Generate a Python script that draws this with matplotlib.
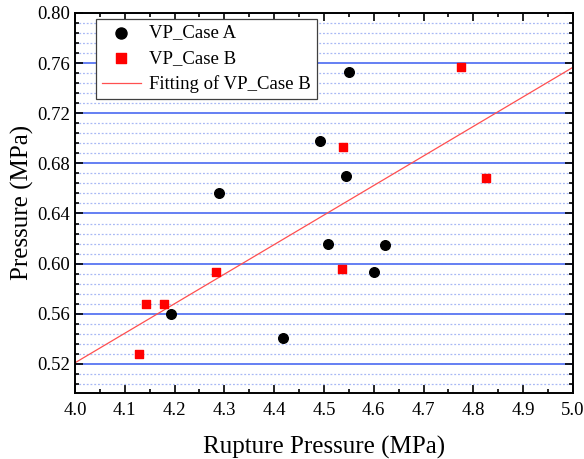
import numpy as np
import matplotlib
matplotlib.use("Agg")
import matplotlib.pyplot as plt
from matplotlib.ticker import MultipleLocator

plt.rcParams['font.family'] = ['Liberation Serif', 'DejaVu Serif']

# VP_Case A
a_x = [4.289, 4.192, 4.417, 4.493, 4.551, 4.544, 4.509, 4.622, 4.600]
a_y = [0.656, 0.560, 0.541, 0.698, 0.753, 0.670, 0.616, 0.615, 0.593]

# VP_Case B
b_x = [4.129, 4.143, 4.178, 4.284, 4.537, 4.538, 4.776, 4.826]
b_y = [0.528, 0.568, 0.568, 0.593, 0.596, 0.693, 0.757, 0.668]

# linear fit of case B
slope, inter = np.polyfit(b_x, b_y, 1)
fit_x = np.array([4.0, 5.0])
fit_y = slope * fit_x + inter

fig = plt.figure(figsize=(5.84, 4.59), dpi=100)
ax = fig.add_axes([0.1284, 0.1445, 0.8526, 0.8272])

ax.set_xlim(4.0, 5.0)
ax.set_ylim(0.497, 0.80)
ax.xaxis.set_major_locator(MultipleLocator(0.1))
ax.xaxis.set_minor_locator(MultipleLocator(0.05))
ax.yaxis.set_major_locator(MultipleLocator(0.04))
ax.yaxis.set_minor_locator(MultipleLocator(0.008))

ax.grid(True, which='major', axis='y', color='#3a5cf0', lw=1.1, ls='-')
ax.grid(True, which='minor', axis='y', color='#a8b8f5', lw=0.9, ls=(0, (1.5, 1.5)))
ax.set_axisbelow(True)

ax.plot(fit_x, fit_y, color='#ff5050', lw=0.9, label='Fitting of VP_Case B', zorder=2)
ax.scatter(a_x, a_y, s=48, c='black', marker='o', label='VP_Case A', zorder=3)
ax.scatter(b_x, b_y, s=38, c='red', marker='s', label='VP_Case B', zorder=3)

ax.tick_params(which='both', direction='in', top=True, right=True, width=1.2)
ax.tick_params(which='major', length=6, labelsize=13.5)
ax.tick_params(which='minor', length=3)
ax.set_xticks(np.arange(4.0, 5.01, 0.1))
ax.set_xticklabels([f"{v:.1f}" for v in np.arange(4.0, 5.01, 0.1)])
ax.set_yticks(np.arange(0.52, 0.801, 0.04))
ax.set_yticklabels([f"{v:.2f}" for v in np.arange(0.52, 0.801, 0.04)])
ax.tick_params(axis='x', pad=7)
for s in ax.spines.values():
    s.set_linewidth(1.4)

ax.set_xlabel('Rupture Pressure (MPa)', fontsize=18, labelpad=12)
ax.set_ylabel('Pressure (MPa)', fontsize=18, labelpad=2)

h, l = ax.get_legend_handles_labels()
order = [1, 2, 0]
leg = ax.legend([h[i] for i in order], [l[i] for i in order], loc='upper left',
                bbox_to_anchor=(0.042, 0.985), fontsize=13.5, frameon=True,
                fancybox=False, edgecolor='#404040', framealpha=1, markerscale=1.15,
                handlelength=2.1, borderpad=0.3, labelspacing=0.45, handletextpad=0.45,
                borderaxespad=0.0)
leg.get_frame().set_linewidth(0.9)

fig.savefig('out.png', dpi=100)
